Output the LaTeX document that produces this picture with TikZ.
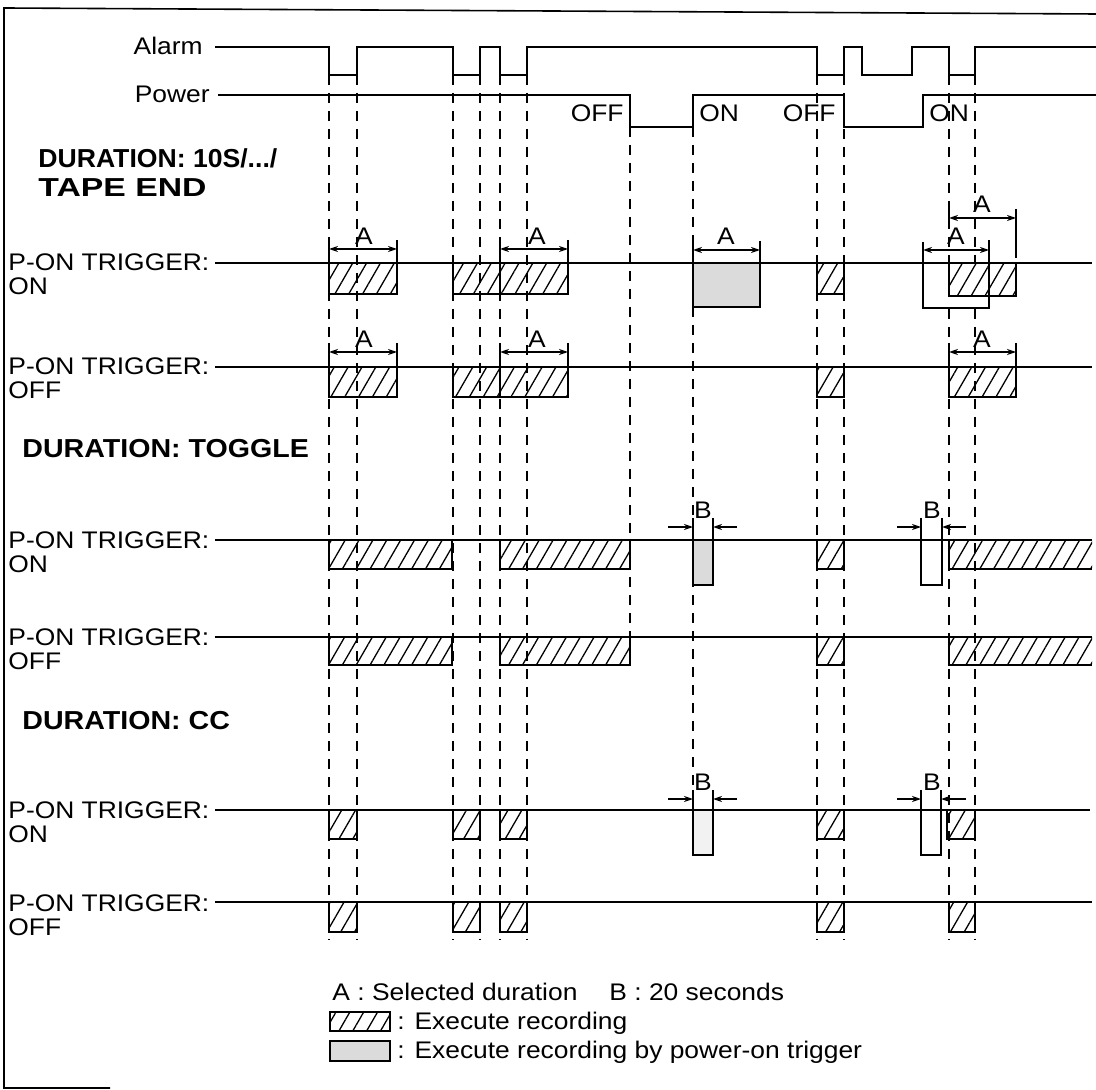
\documentclass[tikz,border=0pt]{standalone}
\usepackage{fontspec}
\usepackage{graphicx}
\setmainfont{Liberation Sans}[FakeStretch=1.1]
\usetikzlibrary{patterns.meta,arrows.meta}
\tikzset{
  frame/.style={line width=0.8pt},
  sig/.style={line width=1pt},
  rowline/.style={line width=1pt},
  guide/.style={line width=0.7pt, dash pattern=on 5pt off 4pt},
  hatch/.style={pattern={Lines[angle=60,distance=6pt,line width=0.65pt]}},
  rec/.style={draw, line width=1.3pt, hatch},
  prec/.style={draw, line width=1.3pt, fill=gray!28},
  lprec/.style={draw, line width=1.3pt, fill=gray!10},
  ebox/.style={draw, line width=1.3pt, fill=white},
  dim/.style={line width=0.8pt, {Stealth[length=4.5pt,width=3pt]}-{Stealth[length=4.5pt,width=3pt]}},
  bar/.style={line width=0.8pt, -{Stealth[length=4.5pt,width=3pt]}},
  tick/.style={line width=0.8pt},
  lbl/.style={font=\fontsize{12}{14}\selectfont, inner sep=0pt},
  head/.style={font=\bfseries\fontsize{13}{15}\selectfont, inner sep=0pt, anchor=base west},
}
\begin{document}
\begin{tikzpicture}[x=0.5pt,y=-0.5pt]
\useasboundingbox (0,0) rectangle (1096,1090);
% frame
\draw[frame] (110,1088) -- (4,1088) -- (4,8) -- (1096,14);

% signals
\node[lbl,anchor=base east] (alarm) at (203,55) {Alarm};
\node[lbl,anchor=base east] (power) at (210,103) {Power};
\draw[sig] (215,47) -- (329,47) -- (329,75) -- (357,75) -- (357,47) -- (453,47) -- (453,75) -- (480,75) -- (480,47) -- (500,47) -- (500,75) -- (527,75) -- (527,47) -- (817,47) -- (817,75) -- (844,75) -- (844,47) -- (862,47) -- (862,75) -- (912,75) -- (912,47) -- (949,47) -- (949,75) -- (975,75) -- (975,47) -- (1096,47);
\draw[sig] (218,95) -- (630,95) -- (630,127) -- (693,127) -- (693,95) -- (844,95) -- (844,127) -- (923,127) -- (923,95) -- (1096,95);
\node[lbl,anchor=base east] (off1) at (624,122) {OFF};
\node[lbl,anchor=base west] (on1) at (699,122) {ON};
\node[lbl,anchor=base east] (off2) at (836,122) {OFF};
\node[lbl,anchor=base west] (on2) at (929,122) {ON};

% guide lines
\foreach \x in {329,357,453,480,500,527,817,844,949,975} \draw[guide] (\x,75) -- (\x,940);
\draw[guide] (630,127) -- (630,665);
\draw[guide] (693,127) -- (693,810);

% headings
\node[head] (h1) at (38,168) {\scalebox{0.93}[1]{DURATION: 10S/.../}};
\node[head] (h1b) at (38,197) {\scalebox{1.18}[1]{TAPE END}};
\node[head] (h2) at (22,458) {DURATION: TOGGLE};
\node[head] (h3) at (22,729) {DURATION: CC};

% row labels
\foreach \y/\t [count=\i] in {263/ON,367/OFF,540/ON,637/OFF,810/ON,903/OFF}{
  \node[lbl,anchor=base west] (pl\i) at (8,\y+8) {P-ON TRIGGER:};
  \node[lbl,anchor=base west] (ps\i) at (8,\y+32) {\t};
}

% row lines
\foreach \y in {263,367,540,637,902} \draw[rowline] (215,\y) -- (1092,\y);
\draw[rowline,line width=0.6pt] (215,810) -- (1090,810);

% ---- row 1
\draw[rec] (329,263) rectangle (397,294);
\draw[rec] (453,263) rectangle (500,294);
\draw[rec] (500,263) rectangle (568,294);
\draw[prec] (693,263) rectangle (760,307);
\draw[rec] (817,263) rectangle (844,294);
\draw[ebox] (923,263) rectangle (989,308);
\draw[rec] (949,263) rectangle (989,296);
\draw[rec] (989,263) rectangle (1016,296);
\draw[dim] (329,249) -- (397,249);
\draw[tick] (329,240) -- (329,263) (397,240) -- (397,263);
\node[lbl,anchor=base] (r1a1) at (364,245) {A};
\draw[dim] (500,249) -- (568,249);
\draw[tick] (500,240) -- (500,263) (568,240) -- (568,263);
\node[lbl,anchor=base] (r1a2) at (537,245) {A};
\draw[dim] (693,250) -- (760,250);
\draw[tick] (693,241) -- (693,263) (760,241) -- (760,263);
\node[lbl,anchor=base] (r1a3) at (726,245) {A};
\draw[dim] (923,250) -- (989,250);
\draw[tick] (923,242) -- (923,263) (989,240) -- (989,263);
\node[lbl,anchor=base] (r1a4) at (956,245) {A};
\draw[dim] (949,218) -- (1016,218);
\draw[tick] (949,209) -- (949,228) (1016,209) -- (1016,258);
\node[lbl,anchor=base] (r1a5) at (982,213) {A};

% ---- row 2
\draw[rec] (329,367) rectangle (397,397);
\draw[rec] (453,367) rectangle (500,397);
\draw[rec] (500,367) rectangle (568,397);
\draw[rec] (817,367) rectangle (844,397);
\draw[rec] (949,367) rectangle (1016,397);
\draw[dim] (329,352) -- (397,352);
\draw[tick] (329,343) -- (329,367) (397,343) -- (397,367);
\node[lbl,anchor=base] (r2a1) at (364,348) {A};
\draw[dim] (500,352) -- (568,352);
\draw[tick] (500,343) -- (500,367) (568,343) -- (568,367);
\node[lbl,anchor=base] (r2a2) at (537,348) {A};
\draw[dim] (949,352) -- (1016,352);
\draw[tick] (949,343) -- (949,367) (1016,343) -- (1016,367);
\node[lbl,anchor=base] (r2a3) at (982,348) {A};

% ---- row 3 (toggle, ON)
\draw[rec] (329,540) rectangle (452,569);
\draw[rec] (500,540) rectangle (630,569);
\draw[rec] (817,540) rectangle (844,569);
\path[hatch] (949,540) rectangle (1092,569);
\draw[line width=1.3pt] (1092,540) -- (949,540) -- (949,569) -- (1092,569);
\draw[prec] (693,540) rectangle (713,585);
\draw[ebox] (921,540) rectangle (942,585);
\draw[bar] (668,527) -- (693,527);
\draw[bar] (737,527) -- (713,527);
\draw[tick] (693,518) -- (693,540) (713,518) -- (713,540);
\node[lbl,anchor=base] (r3b1) at (703,518) {B};
\draw[bar] (897,527) -- (921,527);
\draw[bar] (966,527) -- (942,527);
\draw[tick] (921,518) -- (921,540) (942,518) -- (942,540);
\node[lbl,anchor=base] (r3b2) at (932,518) {B};

% ---- row 4 (toggle, OFF)
\draw[rec] (329,637) rectangle (452,665);
\draw[rec] (500,637) rectangle (630,665);
\draw[rec] (817,637) rectangle (844,665);
\path[hatch] (949,637) rectangle (1092,665);
\draw[line width=1.3pt] (1092,637) -- (949,637) -- (949,665) -- (1092,665);

% ---- row 5 (CC, ON)
\draw[rec] (329,810) rectangle (357,839);
\draw[rec] (453,810) rectangle (480,839);
\draw[rec] (500,810) rectangle (527,839);
\draw[rec] (817,810) rectangle (844,839);
\draw[rec] (947,810) rectangle (975,839);
\draw[lprec] (693,810) rectangle (713,855);
\draw[ebox] (921,810) rectangle (941,855);
\draw[bar] (668,799) -- (693,799);
\draw[bar] (737,799) -- (713,799);
\draw[tick] (693,790) -- (693,810) (713,790) -- (713,810);
\node[lbl,anchor=base] (r5b1) at (703,790) {B};
\draw[bar] (897,799) -- (921,799);
\draw[bar] (966,799) -- (941,799);
\draw[tick] (921,790) -- (921,810) (941,790) -- (941,810);
\node[lbl,anchor=base] (r5b2) at (932,790) {B};

% ---- row 6 (CC, OFF)
\draw[rec] (329,902) rectangle (357,932);
\draw[rec] (453,902) rectangle (480,932);
\draw[rec] (500,902) rectangle (527,932);
\draw[rec] (817,902) rectangle (844,932);
\draw[rec] (949,902) rectangle (975,932);

% legend
\node[lbl,anchor=base west] (legA) at (332,1000) {A : Selected duration};
\node[lbl,anchor=base west] (legB) at (609,1000) {B : 20 seconds};
\draw[rec] (330,1012) rectangle (390,1031);
\node[lbl,anchor=base west] (legR) at (397,1029) {: Execute recording};
\draw[prec] (330,1041) rectangle (390,1061);
\node[lbl,anchor=base west] (legP) at (397,1058) {: Execute recording by power-on trigger};
\end{tikzpicture}
\end{document}
